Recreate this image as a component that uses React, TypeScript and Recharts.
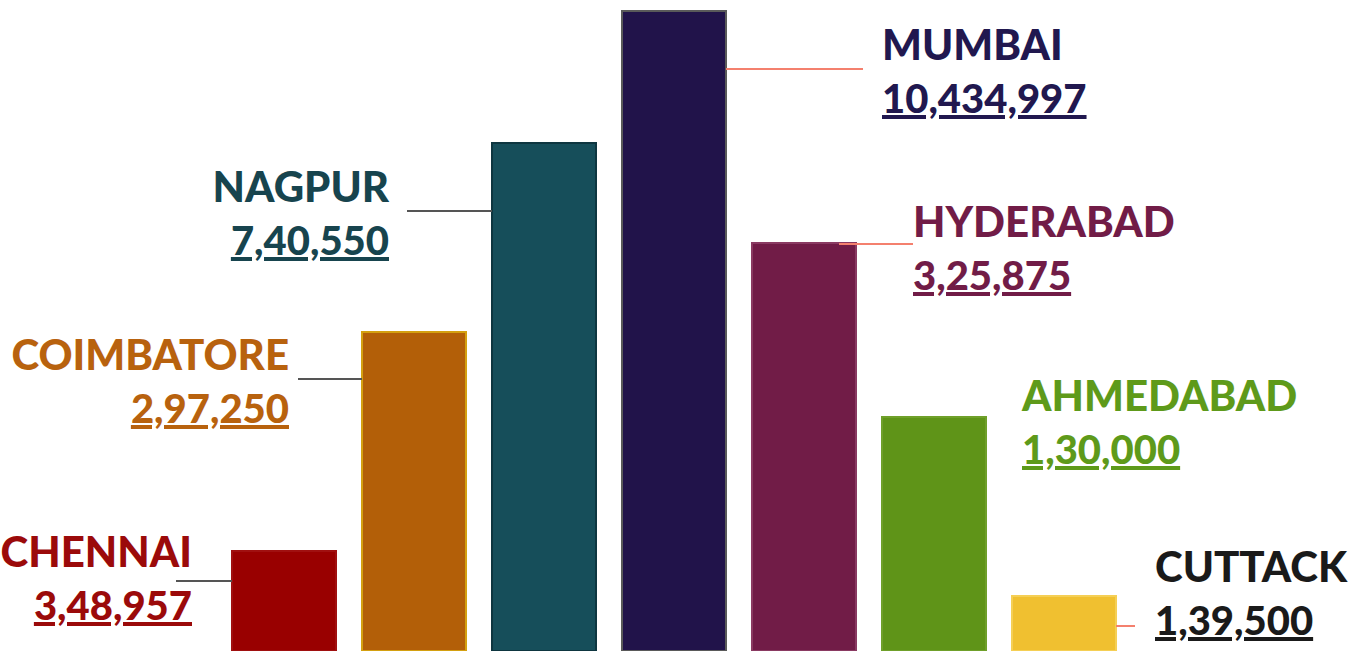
import { BarChart, Bar, Cell, XAxis, YAxis, LabelList } from "recharts";

const CITIES = ["CHENNAI", "COIMBATORE", "NAGPUR", "MUMBAI", "HYDERABAD", "AHMEDABAD", "CUTTACK"];
const POPULATION_LABELS = ["3,48,957", "2,97,250", "7,40,550", "10,434,997", "3,25,875", "1,30,000", "1,39,500"];
// bar heights are decorative in the original (not proportional to the numbers)
const BAR_HEIGHTS = [100, 319, 508, 640, 408, 234, 55];

const BAR_COLORS = ["#990000", "#B35F08", "#164E5A", "#21134A", "#711C47", "#5F9418", "#F0C030"];
const BAR_STROKES = ["#A01010", "#D4A010", "#0E3640", "#5A5A5A", "#8A3A62", "#6FA02A", "#F5CF55"];
const TEXT_COLORS = ["#9B0A0A", "#B8620E", "#17444E", "#21184F", "#711C47", "#5E9A1A", "#1A1A1A"];

// label placement relative to the bar (top edge / side edge)
const LAYOUT: Record<string, { side: "left" | "right"; gap: number; nameDy: number; line?: { dy: number; textGap: number; barInset: number } }> = {
  CHENNAI: { side: "left", gap: 40, nameDy: 16, line: { dy: 30, textGap: -16, barInset: 0 } },
  COIMBATORE: { side: "left", gap: 73, nameDy: 38, line: { dy: 47, textGap: 9, barInset: 0 } },
  NAGPUR: { side: "left", gap: 103, nameDy: 59, line: { dy: 68, textGap: 18, barInset: 0 } },
  MUMBAI: { side: "right", gap: 156, nameDy: 49, line: { dy: 58, textGap: 19, barInset: 0 } },
  HYDERABAD: { side: "right", gap: 57, nameDy: -6, line: { dy: 1, textGap: 0, barInset: -17 } },
  AHMEDABAD: { side: "right", gap: 36, nameDy: -6 },
  CUTTACK: { side: "right", gap: 39, nameDy: -14, line: { dy: 30, textGap: 20, barInset: 0 } },
};

const data = CITIES.map((name, i) => ({ name, height: BAR_HEIGHTS[i], label: POPULATION_LABELS[i] }));

const FONT = "Lato, 'Open Sans', sans-serif";

function CityLabel(props: any) {
  const { x, y, width, value } = props;
  const i = CITIES.indexOf(value);
  if (i < 0) return null;
  const cfg = LAYOUT[value];
  const left = cfg.side === "left";
  const textX = left ? x - cfg.gap : x + width + cfg.gap;
  const anchor = left ? "end" : "start";
  const nameY = y + cfg.nameDy;
  const color = TEXT_COLORS[i];
  let lineEl = null;
  if (cfg.line) {
    const ly = y + cfg.line.dy;
    const x1 = left ? textX + cfg.line.textGap : x + width + cfg.line.barInset;
    const x2 = left ? x - cfg.line.barInset : textX - cfg.line.textGap;
    lineEl = <line x1={x1} x2={x2} y1={ly} y2={ly} stroke={left ? "#555555" : "#F4806E"} strokeWidth={2} />;
  }
  return (
    <g>
      {lineEl}
      <text x={textX} y={nameY} textAnchor={anchor} fill={color} fontFamily={FONT} fontWeight={900} fontSize={42}>
        {value}
      </text>
      <text
        x={textX}
        y={nameY + 53}
        textAnchor={anchor}
        fill={color}
        fontFamily={FONT}
        fontWeight={900}
        fontSize={40}
        style={{ textDecoration: "underline" }}
      >
        {POPULATION_LABELS[i]}
      </text>
    </g>
  );
}

export default function App() {
  return (
    <div style={{ position: "absolute", left: 0, top: 0, width: 1351, height: 651, background: "#fff", overflow: "hidden" }}>
      <BarChart width={1351} height={651} data={data} margin={{ top: 0, right: 222, bottom: 0, left: 219 }} barSize={104}>
        <XAxis dataKey="name" hide />
        <YAxis hide domain={[0, 651]} />
        <Bar dataKey="height" isAnimationActive={false}>
          {data.map((d, i) => (
            <Cell key={d.name} fill={BAR_COLORS[i]} stroke={BAR_STROKES[i]} strokeWidth={2} />
          ))}
          <LabelList dataKey="name" content={CityLabel} />
        </Bar>
      </BarChart>
    </div>
  );
}
